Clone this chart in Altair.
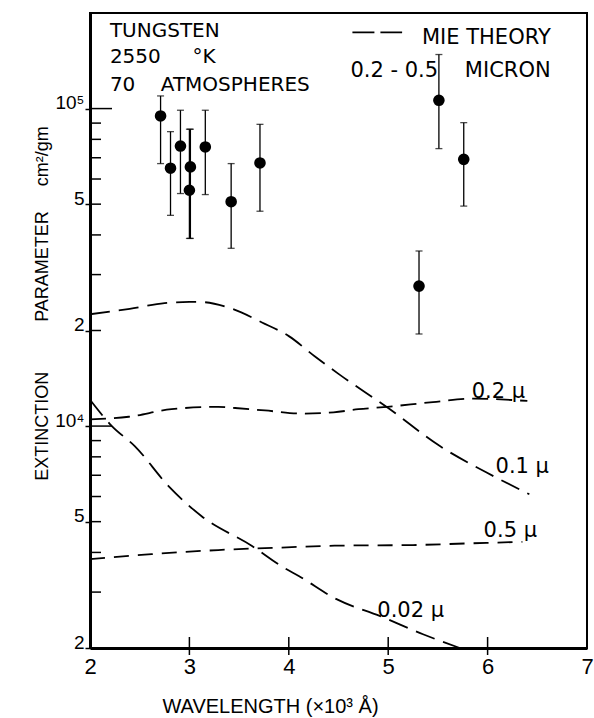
import altair as alt
import pandas as pd

NB = "\u00a0"

# ---------------- data ----------------
# measured points: wavelength (x10^3 A), extinction (x10^3 cm^2/gm), error bar low/high
PT_X = [2.71, 2.81, 2.91, 3.01, 3.00, 3.16, 3.42, 3.71, 5.51, 5.76, 5.31]
PT_Y = [94.8, 64.9, 76.2, 65.5, 55.3, 75.7, 50.9, 67.4, 106.2, 69.2, 27.6]
PT_LO = [67.1, 46.1, 54.0, 39.0, 39.0, 53.6, 36.3, 47.5, 74.8, 49.3, 19.5]
PT_HI = [109.6, 84.6, 98.8, 86.1, 86.1, 98.8, 67.1, 89.2, 148.0, 90.3, 35.6]

# Mie theory curves (x10^3 cm^2/gm)
C01_X = [2.0, 2.4, 2.75, 3.0, 3.1, 3.43, 3.73, 4.0, 4.26, 4.5, 5.0, 5.52, 5.99, 6.42]
C01_Y = [22.5, 23.4, 24.4, 24.6, 24.6, 23.4, 21.2, 19.2, 16.6, 14.6, 11.4, 8.65, 7.14, 6.1]
C02_X = [2.0, 2.39, 2.82, 3.29, 3.46, 3.76, 4.13, 4.45, 4.7, 4.99, 5.45, 5.86, 6.4]
C02_Y = [10.5, 10.7, 11.3, 11.5, 11.4, 11.2, 10.95, 11.05, 11.3, 11.5, 11.9, 12.2, 12.0]
C05_X = [2.0, 2.62, 3.29, 3.98, 4.46, 5.25, 5.8, 6.35]
C05_Y = [3.81, 3.95, 4.07, 4.15, 4.2, 4.22, 4.27, 4.32]
C002_X = [2.0, 2.22, 2.45, 2.79, 3.12, 3.63, 3.95, 4.1, 4.48, 4.92, 5.35, 5.72]
C002_Y = [12.1, 10.0, 8.65, 6.47, 5.21, 4.19, 3.58, 3.37, 2.85, 2.52, 2.21, 2.0]

CURVES = [("0.1μ", C01_X, C01_Y), ("0.2μ", C02_X, C02_Y),
          ("0.5μ", C05_X, C05_Y), ("0.02μ", C002_X, C002_Y)]

# curve labels: text, x, y (baseline)
CL_TEXT = ["0.2 μ", "0.1 μ", "0.5 μ", "0.02 μ"]
CL_X = [5.84, 6.08, 5.96, 4.89]
CL_Y = [12.3, 7.1, 4.47, 2.5]

# annotation block text
AN_TEXT = ["TUNGSTEN", "2550" + NB * 5 + "°K", "70" + NB * 4 + "ATMOSPHERES",
           "MIE THEORY", "0.2" + NB + "-" + NB + "0.5" + NB * 4 + "MICRON"]
AN_X = [2.20, 2.20, 2.20, 5.34, 4.62]
AN_Y = [167.7, 138.9, 113.4, 159.4, 125.5]
AN_SIZE = [20, 20, 20, 21, 21]

# legend dash sample
LEG_X = [4.64, 5.14]
LEG_Y = [173.9, 173.9]

# axes
X_TICKS = [2, 3, 4, 5, 6, 7]
X_INNER_TICKS = [3, 4, 5, 6]
Y_LABEL_VALUES = [2, 5, 10, 20, 50, 100]
Y_LABEL_TEXT = ["2", "5", "10⁴", "2", "5", "10⁵"]
Y_MINOR = [2, 3, 4, 5, 6, 7, 8, 9, 20, 30, 40, 50, 60, 70, 80, 90]
Y_MAJOR = [10, 100]

FONT = "Liberation Sans"
AFONT = "DejaVu Sans"
W, H = 497, 635

xscale = alt.Scale(domain=[2, 7], nice=False, zero=False)
yscale = alt.Scale(type="log", domain=[2, 200], nice=False)

label_expr = " : ".join(
    f"datum.value == {v} ? '{t}'" for v, t in zip(Y_LABEL_VALUES, Y_LABEL_TEXT)
) + " : ''"

YTITLE = "EXTINCTION" + NB * 10 + "PARAMETER" + NB * 5 + "cm²/gm"

xaxis = alt.Axis(values=X_TICKS, format="d", tickSize=0, labelPadding=8,
                 labelFlush=False, labelOverlap=False,
                 labelFontSize=22, labelFont=FONT, labelColor="black",
                 domainColor="black", domainWidth=3, grid=False,
                 title="WAVELENGTH (×10³ Å)", titleFont=FONT, titleFontSize=20,
                 titleFontWeight="normal", titleColor="black",
                 titleX=180, titleY=64, titleBaseline="alphabetic", titleAlign="center")
yaxis = alt.Axis(values=Y_LABEL_VALUES, labelExpr=label_expr, tickSize=5,
                 labelFlush=False, labelOverlap=False,
                 tickColor="black", tickWidth=1.5, labelPadding=1,
                 labelBaseline="alphabetic", labelFontSize=19, labelFont=FONT,
                 labelColor="black", domainColor="black", domainWidth=3, grid=False,
                 title=YTITLE, titleFont=FONT,
                 titleFontSize=18, titleFontWeight="normal", titleColor="black",
                 titleAngle=270, titleX=-43, titleY=290, titleBaseline="alphabetic",
                 titleAlign="center")

X = lambda f: alt.X(f, type="quantitative", scale=xscale, axis=xaxis)
Y = lambda f: alt.Y(f, type="quantitative", scale=yscale, axis=yaxis)

# curves
rows = []
for name, xs, ys in CURVES:
    for i, (a, b) in enumerate(zip(xs, ys)):
        rows.append({"curve": name, "x": a, "y": b, "o": i})
curves_df = pd.DataFrame(rows)
dash = {"0.1μ": [20, 9], "0.2μ": [16, 8], "0.5μ": [15, 9], "0.02μ": [20, 9]}
curve_layers = [
    alt.Chart(curves_df[curves_df.curve == n]).mark_line(
        color="black", strokeWidth=1.8, strokeDash=dash[n], interpolate="monotone"
    ).encode(x=X("x"), y=Y("y"), order="o:Q")
    for n, _, _ in CURVES
]

pts = pd.DataFrame({"x": PT_X, "y": PT_Y, "lo": PT_LO, "hi": PT_HI})
err = alt.Chart(pts).mark_rule(color="black", strokeWidth=1.3).encode(
    x=X("x"), y=Y("lo"), y2="hi")
cap_lo = alt.Chart(pts).mark_tick(color="black", orient="horizontal", size=7,
                                  thickness=1.3).encode(x=X("x"), y=Y("lo"))
cap_hi = alt.Chart(pts).mark_tick(color="black", orient="horizontal", size=7,
                                  thickness=1.3).encode(x=X("x"), y=Y("hi"))
dots = alt.Chart(pts).mark_point(filled=True, color="black", opacity=1, size=135).encode(
    x=X("x"), y=Y("y"))

cl = pd.DataFrame({"t": CL_TEXT, "x": CL_X, "y": CL_Y})
curve_labels = alt.Chart(cl).mark_text(font=AFONT, fontSize=21, align="left",
                                       baseline="alphabetic", color="black").encode(
    x=X("x"), y=Y("y"), text="t")

an = pd.DataFrame({"t": AN_TEXT, "x": AN_X, "y": AN_Y, "s": AN_SIZE})
annot = alt.Chart(an).mark_text(font=AFONT, align="left", baseline="alphabetic",
                                color="black").encode(
    x=X("x"), y=Y("y"), text="t", size=alt.Size("s:Q", scale=None, legend=None))

leg = pd.DataFrame({"x": LEG_X, "y": LEG_Y})
leg_line = alt.Chart(leg).mark_line(color="black", strokeWidth=1.8,
                                    strokeDash=[22, 6]).encode(x=X("x"), y=Y("y"))

ymin = pd.DataFrame({"v": Y_MINOR})
ymaj = pd.DataFrame({"v": Y_MAJOR})
ytick_minor = alt.Chart(ymin).mark_rule(color="black", strokeWidth=1.5).encode(
    y=Y("v"), x=alt.value(0), x2=alt.value(11))
ytick_major = alt.Chart(ymaj).mark_rule(color="black", strokeWidth=1.5).encode(
    y=Y("v"), x=alt.value(0), x2=alt.value(22))
xin = pd.DataFrame({"v": X_INNER_TICKS})
xtick = alt.Chart(xin).mark_rule(color="black", strokeWidth=1.5).encode(
    x=X("v"), y=alt.value(H - 11), y2=alt.value(H + 7))

chart = alt.layer(
    *curve_layers, err, cap_lo, cap_hi, dots, curve_labels, annot, leg_line,
    ytick_minor, ytick_major, xtick
).properties(
    width=W, height=H,
    autosize=alt.AutoSizeParams(type="none"),
    padding={"left": 90, "top": 13, "right": 7, "bottom": 70},
    background="white",
).configure_view(stroke="black", strokeWidth=2)

chart.save("out.html", embed_options={"renderer": "svg", "actions": False})
